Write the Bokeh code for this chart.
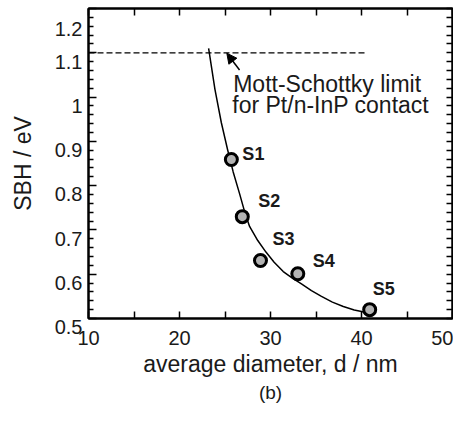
from bokeh.plotting import figure
from bokeh.models import Range1d, LinearAxis, FixedTicker, Arrow, NormalHead, Label, Title
from bokeh.embed import file_html
from bokeh.resources import INLINE
from bokeh.core.properties import value

# ---- data ----
sample_names = ["S1", "S2", "S3", "S4", "S5"]
diameter_nm = [25.7, 26.9, 28.9, 33.0, 40.9]
sbh_ev = [0.859, 0.730, 0.631, 0.601, 0.520]

fit_d = [23.2, 23.9, 24.6, 25.3, 25.9, 26.6, 27.2, 27.7, 28.6, 29.5, 30.4,
         31.4, 32.4, 33.4, 34.5, 35.6, 36.8, 38.0, 39.2, 40.4]
fit_sbh = [1.110, 1.017, 0.942, 0.880, 0.831, 0.782, 0.738, 0.708, 0.676, 0.650, 0.627,
           0.606, 0.591, 0.578, 0.563, 0.550, 0.537, 0.527, 0.519, 0.514]

ms_limit_ev = 1.10
ms_limit_d = [10, 40.5]

x_start, x_end = 10, 50
y_start, y_end = 0.5, 1.2
x_ticks = [10, 20, 30, 40, 50]
x_minor = [15, 25, 35, 45]
y_ticks = [0.5, 0.6, 0.7, 0.8, 0.9, 1.0, 1.1, 1.2]
y_tick_labels = ["0.5", "0.6", "0.7", "0.8", "0.9", "1", "1.1", "1.2"]
y_minor = [round(0.5 + 0.02 * i, 2) for i in range(36) if i % 5]

arrow_tail = (26.6, 1.061)
arrow_tip = (25.2, 1.099)
note_lines = ["Mott-Schottky limit", "for Pt/n-InP contact"]
note_pos = [(25.9, 1.030), (25.8, 0.982)]

label_dx = [11, 16, 12, 15, 3]
label_dy = [-6, -16, -21, -13, -21]

FONT = "Liberation Sans"
TXT = "#1a1a1a"

p = figure(width=453, height=409, x_range=Range1d(x_start, x_end),
           y_range=Range1d(y_start, y_end),
           output_backend="svg", toolbar_location=None,
           min_border_left=88, min_border_right=1, min_border_top=8, min_border_bottom=91)
p.grid.visible = False
p.outline_line_color = "black"
p.outline_line_width = 2
p.background_fill_color = "white"
p.border_fill_color = "white"


def style_axis(ax, ticks, minor, major_in, minor_in):
    ax.ticker = FixedTicker(ticks=ticks, minor_ticks=minor)
    ax.major_tick_in = major_in
    ax.major_tick_out = 0
    ax.minor_tick_in = minor_in
    ax.minor_tick_out = 0
    ax.axis_line_width = 2
    ax.major_tick_line_width = 1.5
    ax.minor_tick_line_width = 1.5
    ax.major_tick_line_color = "black"
    ax.minor_tick_line_color = "black"
    ax.major_label_text_font = FONT
    ax.major_label_text_color = TXT
    ax.axis_label_text_font = FONT
    ax.axis_label_text_font_style = "normal"
    ax.axis_label_text_color = TXT


xa = p.xaxis[0]
style_axis(xa, x_ticks, x_minor, 7, 7)
xa.major_label_text_font_size = "20px"
xa.major_label_standoff = 12
xa.axis_label = "average diameter, d / nm"
xa.axis_label_text_font_size = "23px"
xa.axis_label_standoff = 3

ya = p.yaxis[0]
style_axis(ya, y_ticks, y_minor, 8, 5)
# the original prints its y labels a little below each tick: a leading empty line does that
ya.major_label_overrides = {t: "\n" + s for t, s in zip(y_ticks, y_tick_labels)}
ya.major_label_text_line_height = 0.8
ya.major_label_text_font_size = "20px"
ya.major_label_standoff = 6
ya.axis_label = "SBH / eV"
ya.axis_label_text_font_size = "23px"
ya.axis_label_standoff = 16

top = LinearAxis()
style_axis(top, [], x_ticks + x_minor, 7, 7)
p.add_layout(top, "above")

right = LinearAxis()
style_axis(right, [], y_ticks + y_minor, 7, 6)
p.add_layout(right, "right")

# Mott-Schottky limit
p.line(ms_limit_d, [ms_limit_ev] * len(ms_limit_d), line_color="black",
       line_width=1.2, line_dash="6 3")
# fit curve
p.line(fit_d, fit_sbh, line_color="black", line_width=1.5)
# samples
p.scatter(diameter_nm, sbh_ev, size=12, fill_color="#b3b3b3", line_color="black",
          line_width=3)
p.text(x=diameter_nm, y=sbh_ev, text=sample_names, x_offset=label_dx, y_offset=label_dy,
       text_font=value(FONT), text_font_style="bold", text_font_size="18px",
       text_color=TXT, text_align="left", text_baseline="middle")

p.add_layout(Arrow(end=NormalHead(size=10, fill_color="black", line_color="black", line_width=1),
                   x_start=arrow_tail[0], y_start=arrow_tail[1],
                   x_end=arrow_tip[0], y_end=arrow_tip[1],
                   line_color="black", line_width=1.5))
for txt, (lx, ly) in zip(note_lines, note_pos):
    p.add_layout(Label(x=lx, y=ly, text=txt, text_font=FONT, text_font_size="23px",
                       text_color=TXT, text_align="left", text_baseline="middle"))

cap = Title(text="(b)", align="center", text_font=FONT, text_font_size="19px",
            text_font_style="normal", text_color=TXT, standoff=0)
p.add_layout(cap, "below")

open("out.html", "w").write(file_html(p, INLINE))
